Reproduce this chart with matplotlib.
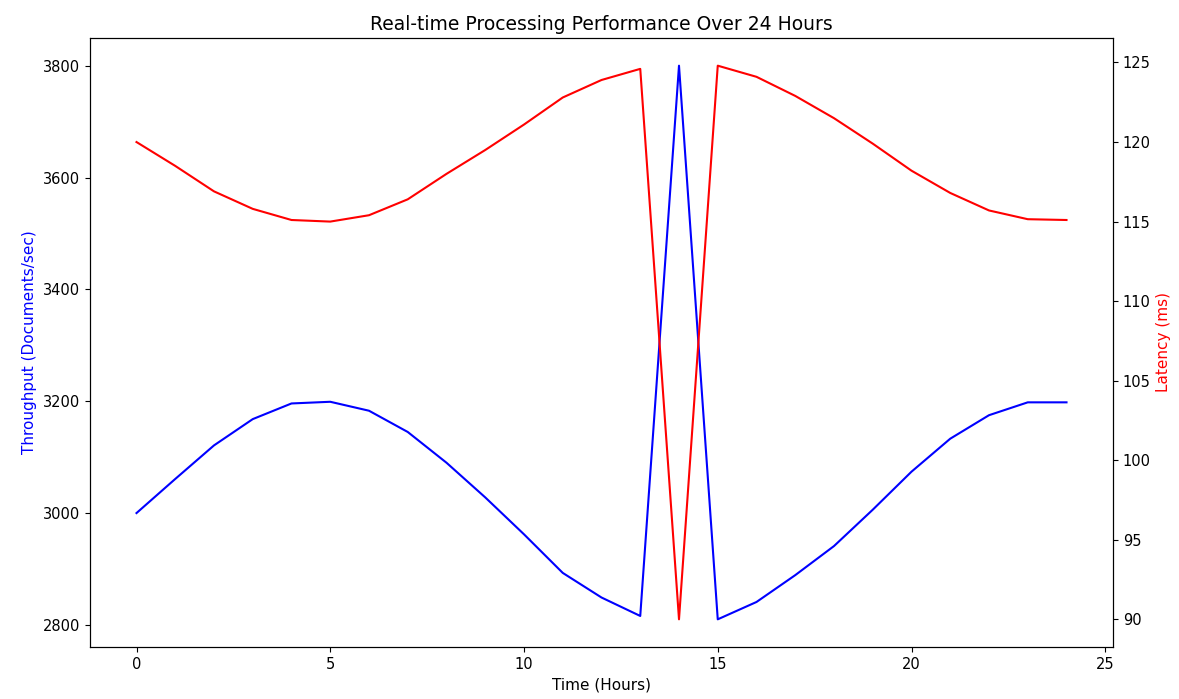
import matplotlib
matplotlib.use("Agg")
import matplotlib.pyplot as plt

# --- data -------------------------------------------------------------------
hours = list(range(25))
throughput = [3000, 3061, 3121, 3168, 3196, 3199, 3183, 3145, 3090, 3028,
              2962, 2893, 2849, 2816, 3800, 2810, 2841, 2889, 2941, 3006,
              3074, 3133, 3175, 3198, 3198]
latency = [120.0, 118.5, 116.9, 115.8, 115.1, 115.0, 115.4, 116.4, 118.0, 119.5,
           121.1, 122.8, 123.9, 124.6, 90.0, 124.8, 124.1, 122.9, 121.5, 119.9,
           118.2, 116.8, 115.7, 115.15, 115.1]

fig = plt.figure(figsize=(11.79, 6.99), dpi=100)
ax1 = fig.add_axes([90 / 1179, 1 - 647 / 699, 1023 / 1179, 609 / 699])

ax1.plot(hours, throughput, color="b")
ax1.set_xlabel("Time (Hours)", fontsize=11)
ax1.set_ylabel("Throughput (Documents/sec)", color="b", fontsize=11)
ax1.set_title("Real-time Processing Performance Over 24 Hours", fontsize=13.5)
ax1.tick_params(labelsize=10.5)

ax2 = ax1.twinx()
ax2.plot(hours, latency, color="r")
ax2.set_ylabel("Latency (ms)", color="r", fontsize=11)
ax2.tick_params(labelsize=10.5)

fig.savefig("out.png", dpi=100)
